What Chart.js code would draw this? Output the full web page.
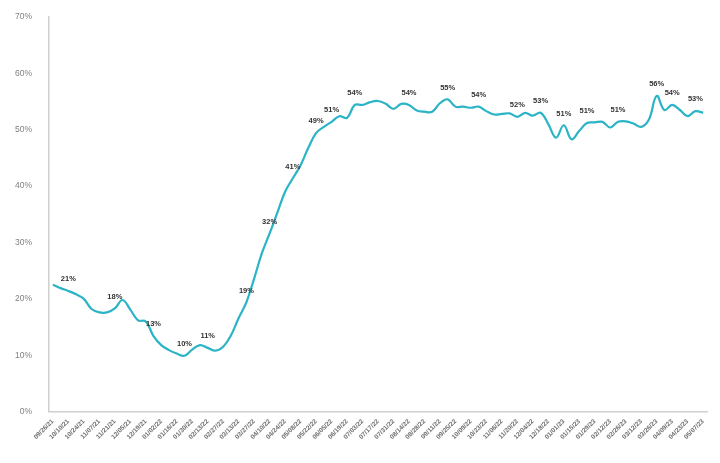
<!DOCTYPE html>
<html>
<head>
<meta charset="utf-8">
<script src="https://cdn.jsdelivr.net/npm/chart.js@4/dist/chart.umd.min.js"></script>
<style>
html,body{margin:0;padding:0;background:#fff;}
#wrap{width:720px;height:463px;position:relative;}
</style>
</head>
<body>
<div id="wrap"><canvas id="c" width="720" height="463"></canvas></div>
<script>
const weeks = [
"09/26/21","10/03/21","10/10/21","10/17/21","10/24/21","10/31/21","11/07/21","11/14/21","11/21/21","11/28/21",
"12/05/21","12/12/21","12/19/21","12/26/21","01/02/22","01/09/22","01/16/22","01/23/22","01/30/22","02/06/22",
"02/13/22","02/20/22","02/27/22","03/06/22","03/13/22","03/20/22","03/27/22","04/03/22","04/10/22","04/17/22",
"04/24/22","05/01/22","05/08/22","05/15/22","05/22/22","05/29/22","06/05/22","06/12/22","06/19/22","06/26/22",
"07/03/22","07/10/22","07/17/22","07/24/22","07/31/22","08/07/22","08/14/22","08/21/22","08/28/22","09/04/22",
"09/11/22","09/18/22","09/25/22","10/02/22","10/09/22","10/16/22","10/23/22","10/30/22","11/06/22","11/13/22",
"11/20/22","11/27/22","12/04/22","12/11/22","12/18/22","12/25/22","01/01/23","01/08/23","01/15/23","01/22/23",
"01/29/23","02/05/23","02/12/23","02/19/23","02/26/23","03/05/23","03/12/23","03/19/23","03/26/23","04/02/23",
"04/09/23","04/16/23","04/23/23","04/30/23","05/07/23"
];
const share = [
22.5,21.9,21.4,20.8,20.0,18.2,17.6,17.6,18.3,19.8,
18.1,16.2,16.0,13.4,11.8,10.9,10.3,9.9,11.0,11.8,
11.3,10.8,11.5,13.5,16.6,19.4,23.6,28.1,31.6,35.3,
39.0,41.4,43.7,46.8,49.4,50.5,51.4,52.4,52.1,54.4,
54.4,54.9,55.1,54.6,53.7,54.6,54.4,53.4,53.2,53.2,
54.7,55.4,54.1,54.1,53.9,54.1,53.3,52.7,52.8,52.9,
52.3,53.0,52.5,53.0,51.0,48.6,50.8,48.3,49.8,51.2,
51.3,51.4,50.4,51.4,51.5,51.1,50.5,51.8,56.0,53.5,
54.4,53.5,52.4,53.3,53.0
];
const labelledPoints = [2,8,13,17,20,25,28,31,34,36,39,46,51,55,60,63,66,69,73,78,80,83];
const yTicks = [0,10,20,30,40,50,60,70];

const pointLabels = {
  id:'pointLabels',
  afterDatasetsDraw(chart){
    const ctx = chart.ctx;
    const meta = chart.getDatasetMeta(0);
    ctx.save();
    ctx.font = 'bold 7.5px "Liberation Sans", Arial, sans-serif';
    ctx.fillStyle = '#333333';
    ctx.textAlign = 'center';
    ctx.textBaseline = 'bottom';
    labelledPoints.forEach(i => {
      const p = meta.data[i];
      ctx.fillText(Math.round(share[i]) + '%', p.x, p.y - 8);
    });
    ctx.restore();
  }
};

new Chart(document.getElementById('c'), {
  type:'line',
  data:{
    labels:weeks,
    datasets:[{
      data:share,
      borderColor:'#2bb3c6',
      borderWidth:2.2,
      pointRadius:0,
      tension:0.4,
      fill:false
    }]
  },
  options:{
    responsive:false,
    animation:false,
    devicePixelRatio:1,
    layout:{padding:{left:15,right:13,top:17,bottom:16}},
    plugins:{legend:{display:false},tooltip:{enabled:false}},
    scales:{
      x:{
        offset:true,
        afterFit:(s)=>{ s.paddingLeft = 0; s.paddingRight = 0; },
        grid:{display:false,drawTicks:false},
        border:{display:true,color:'#d0d0d0',width:1.5},
        ticks:{
          autoSkip:false,
          maxRotation:45,minRotation:45,
          color:'#707070',
          font:{size:6.5,weight:'bold',family:'"Liberation Sans", Arial, sans-serif'},
          padding:6,
          callback:function(v,i){ return i % 2 === 0 ? weeks[i] : ''; }
        }
      },
      y:{
        min:0,max:70,
        afterBuildTicks:(s)=>{ s.ticks = yTicks.map(v=>({value:v})); },
        afterFit:(s)=>{ s.width = 34; s.paddingTop = 0; s.paddingBottom = 0; },
        grid:{display:false,drawTicks:false},
        border:{display:true,color:'#d0d0d0',width:1.5},
        ticks:{
          color:'#808080',
          font:{size:8.5,family:'"Liberation Sans", Arial, sans-serif'},
          padding:17,
          callback:v=>v+'%'
        }
      }
    }
  },
  plugins:[pointLabels]
});
</script>
</body>
</html>
